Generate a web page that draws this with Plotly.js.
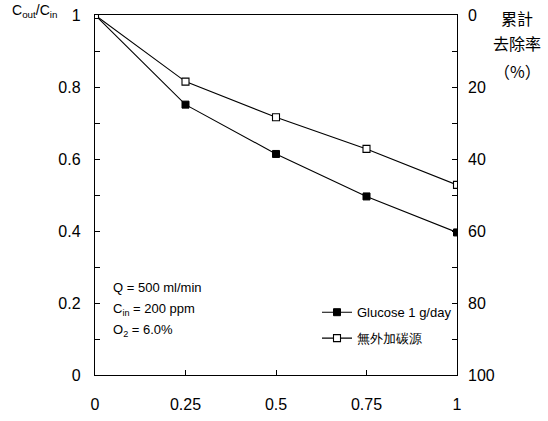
<!DOCTYPE html>
<html>
<head>
<meta charset="utf-8">
<script src="https://cdn.plot.ly/plotly-3.0.1.min.js"></script>
<style>html,body{margin:0;padding:0;background:#fff;}#chart{width:548px;height:421px;}</style>
</head>
<body>
<div id="chart"></div>
<script>
const xValues = [0, 0.25, 0.5, 0.75, 1];
const glucoseValues = [1, 0.751, 0.614, 0.496, 0.396];
const noCarbonValues = [1, 0.815, 0.716, 0.628, 0.528];
const seriesNames = ['Glucose 1 g/day', '無外加碳源'];
const xTickVals = [0, 0.25, 0.5, 0.75, 1];
const xTickText = ['0', '0.25', '0.5', '0.75', '1'];
const yTickVals = [0, 0.2, 0.4, 0.6, 0.8, 1];
const yTickText = ['0', '0.2', '0.4', '0.6', '0.8', '1'];
const y2TickVals = [0, 20, 40, 60, 80, 100];
const y2TickText = ['0', '20', '40', '60', '80', '100'];
const rightTitleLines = ['累計', '去除率', '（%）'];
const conditionLines = ['Q = 500 ml/min', 'C<sub>in</sub> = 200 ppm', 'O<sub>2</sub> = 6.0%'];

const FONT = '"Liberation Sans Narrow", "Liberation Sans", Arial, sans-serif';
const CJK = '"Noto Sans CJK TC", "Noto Sans CJK SC", sans-serif';

const traces = [
  {
    x: xValues, y: glucoseValues, name: seriesNames[0], type: 'scatter', mode: 'lines+markers',
    legendgroup: 'a',
    line: {color: '#000', width: 1.1},
    marker: {symbol: 'square', size: 7, color: '#000', line: {color: '#000', width: 1}}
  },
  {
    x: xValues, y: noCarbonValues, name: seriesNames[1], type: 'scatter', mode: 'lines+markers',
    legendgroup: 'b',
    line: {color: '#000', width: 1.1},
    marker: {symbol: 'square', size: 7, color: '#fff', line: {color: '#000', width: 1.1}}
  },
  {
    x: [], y: [], yaxis: 'y2', showlegend: false, type: 'scatter'
  }
];

const annotations = [
  {xref: 'paper', yref: 'paper', x: -0.235, y: 1.01, xanchor: 'left', yanchor: 'middle', showarrow: false,
   text: 'C<sub>out</sub>/C<sub>in</sub>', font: {family: FONT, size: 14}}
];
const rightY = [18, 43, 71];
rightTitleLines.forEach((t, i) => {
  annotations.push({xref: 'paper', yref: 'paper', x: (517 - 95) / 362, y: (375 - rightY[i]) / 360,
    xanchor: 'center', yanchor: 'middle', showarrow: false, text: t, font: {family: CJK, size: 16}});
});
const condY = [287, 309, 330];
conditionLines.forEach((t, i) => {
  annotations.push({xref: 'paper', yref: 'paper', x: 0.045, y: (375 - condY[i]) / 360,
    xanchor: 'left', yanchor: 'middle', showarrow: false, text: t, font: {family: FONT, size: 13}});
});

const layout = {
  width: 548, height: 421,
  margin: {l: 95, r: 91, t: 15, b: 46},
  paper_bgcolor: '#fff', plot_bgcolor: '#fff',
  font: {family: FONT, size: 16, color: '#000'},
  showlegend: true,
  legend: {
    x: 1.0, xanchor: 'right', y: 0.216, yanchor: 'top',
    bgcolor: 'rgba(0,0,0,0)', font: {family: FONT, size: 13},
    traceorder: 'grouped', tracegroupgap: 6, itemwidth: 30
  },
  xaxis: {
    range: [0, 1], tickvals: xTickVals, ticktext: xTickText,
    ticks: 'inside', ticklen: 5, tickcolor: '#000', tickwidth: 1,
    showline: true, linecolor: '#000', linewidth: 1.2, mirror: true,
    showgrid: false, zeroline: false, ticklabelstandoff: 15,
    tickfont: {family: FONT, size: 16}
  },
  yaxis: {
    range: [0, 1], tickvals: yTickVals, ticktext: yTickText,
    ticks: 'inside', ticklen: 5, tickcolor: '#000', tickwidth: 1,
    minor: {dtick: 0.1, ticks: 'inside', ticklen: 5, tickcolor: '#000', showgrid: false},
    showline: true, linecolor: '#000', linewidth: 1.2, mirror: true,
    showgrid: false, zeroline: false, ticklabelstandoff: 10,
    tickfont: {family: FONT, size: 16}
  },
  yaxis2: {
    overlaying: 'y', side: 'right', range: [100, 0],
    tickvals: y2TickVals, ticktext: y2TickText,
    ticks: 'inside', ticklen: 5, tickcolor: '#000', tickwidth: 1,
    minor: {dtick: 10, ticks: 'inside', ticklen: 5, tickcolor: '#000', showgrid: false},
    showline: false, showgrid: false, zeroline: false, ticklabelstandoff: 10,
    tickfont: {family: FONT, size: 16}
  },
  annotations: annotations
};

Plotly.newPlot('chart', traces, layout, {displayModeBar: false, staticPlot: true});
</script>
</body>
</html>
